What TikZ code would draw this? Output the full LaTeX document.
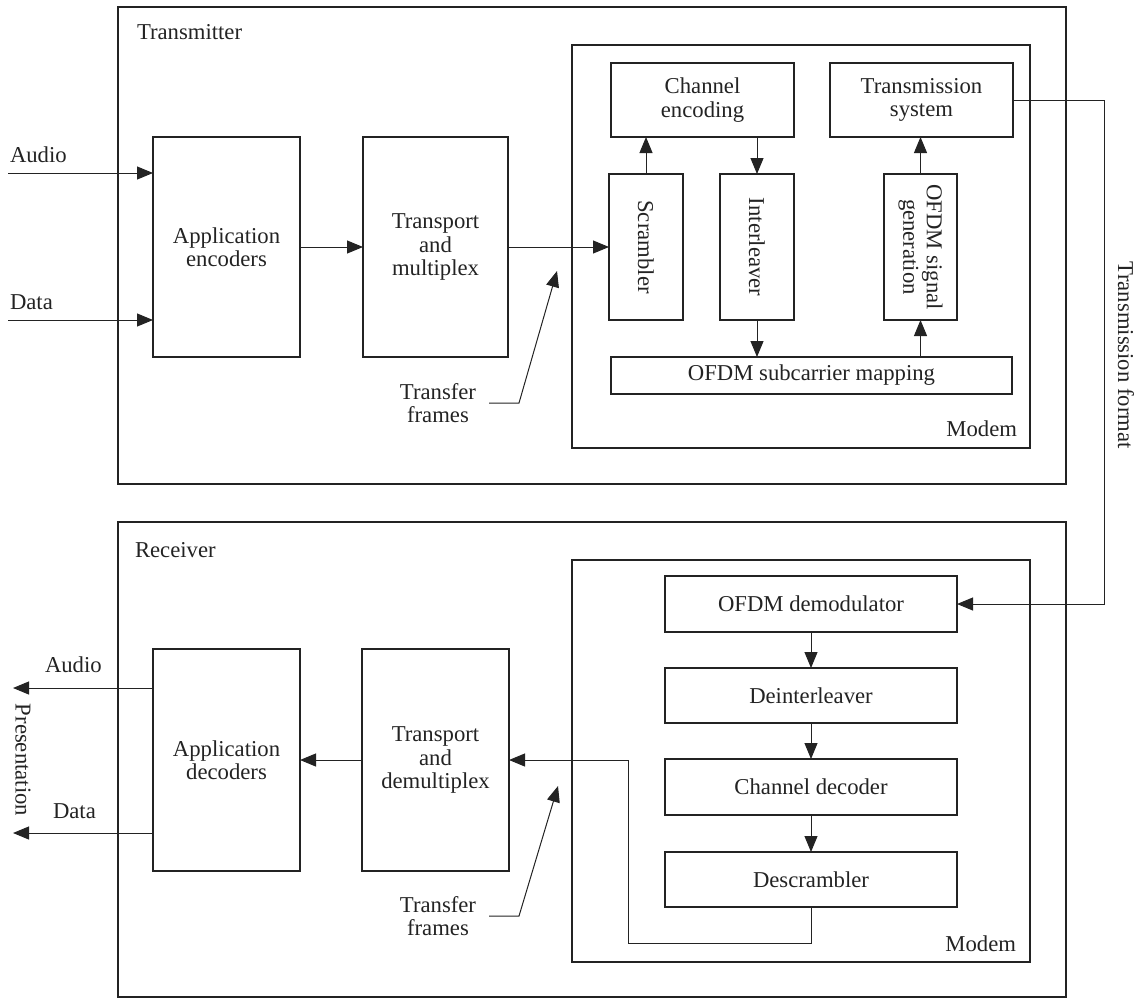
\documentclass[tikz,border=0pt]{standalone}
\usepackage{fontspec}
\setmainfont{Liberation Serif}
\usetikzlibrary{arrows.meta}
\definecolor{ink}{RGB}{35,35,35}
\begin{document}
\begin{tikzpicture}[x=1pt,y=-1pt,
  every node/.style={font=\fontsize{22.7}{23.5}\selectfont, text=ink, inner sep=0pt, outer sep=0pt},
  blk/.style={draw=ink, line width=1.5pt, align=center},
  frame/.style={draw=ink, line width=1.5pt},
  conn/.style={draw=ink, line width=1pt},
  arr/.style={conn, -{Triangle[length=16pt,width=13pt]}},
  vt/.style={rotate=-90, align=center}
]
\useasboundingbox (0,0) rectangle (1140,999);

% ---------- Transmitter ----------
\node[frame, minimum width=948pt, minimum height=477pt] (txouter) at (592,245.5) {};
\node[anchor=base west] (txlbl) at (137,39) {Transmitter};
\node[frame, minimum width=458pt, minimum height=403pt] (txmodem) at (801,246.5) {};
\node[anchor=base east] (txmodemlbl) at (1017,436) {Modem};

\node[blk, minimum width=147pt, minimum height=220pt] (appenc) at (226.5,247) {Application\\encoders};
\node[blk, minimum width=145pt, minimum height=220pt] (transp) at (435.5,247) {Transport\\and\\multiplex};

\node[blk, minimum width=183pt, minimum height=74pt] (chenc) at (702.5,100) {Channel\\encoding};
\node[blk, minimum width=183pt, minimum height=74pt] (txsys) at (921.5,100) {Transmission\\system};
\node[blk, minimum width=74pt, minimum height=146pt] (scr) at (646,247) {};
\node[vt] (scrtxt) at (scr.center) {Scrambler};
\node[blk, minimum width=74pt, minimum height=146pt] (intl) at (757,247) {};
\node[vt] (intltxt) at (intl.center) {Interleaver};
\node[blk, minimum width=73pt, minimum height=146pt] (gen) at (920.5,247) {};
\node[vt] (gentxt) at (gen.center) {OFDM signal\\generation};
\node[blk, minimum width=401pt, minimum height=37pt] (mapping) at (811.5,375.5) {OFDM subcarrier mapping};

\coordinate (audioin) at (8,173);
\coordinate (datain) at (8,320);
\node[anchor=base west] (audiolbl) at (10,162) {Audio};
\node[anchor=base west] (datalbl) at (10,309) {Data};
\draw[arr] (audioin) -- (audioin -| appenc.west);
\draw[arr] (datain) -- (datain -| appenc.west);
\draw[arr] (appenc.east) -- (transp.west);
\draw[arr] (transp.east) -- (scr.west);

\node[align=center] (tf1) at (438,403) {Transfer\\frames};
\coordinate (tf1s) at (489,403);
\coordinate (tf1k) at (519,403);
\coordinate (tf1t) at (557,271);
\draw[arr] (tf1s) -- (tf1k) -- (tf1t);

\draw[arr] (scr.north) -- (scr.north |- chenc.south);
\draw[arr] (intl.north |- chenc.south) -- (intl.north);
\draw[arr] (intl.south) -- (intl.south |- mapping.north);
\draw[arr] (gen.south |- mapping.north) -- (gen.south);
\draw[arr] (gen.north) -- (gen.north |- txsys.south);

% ---------- Receiver ----------
\node[frame, minimum width=948pt, minimum height=475pt] (rxouter) at (592,759.5) {};
\node[anchor=base west] (rxlbl) at (135,557) {Receiver};
\node[frame, minimum width=458pt, minimum height=402pt] (rxmodem) at (801,761) {};
\node[anchor=base east] (rxmodemlbl) at (1016,951) {Modem};

\node[blk, minimum width=292pt, minimum height=56pt] (demod) at (811,604) {OFDM demodulator};
\node[blk, minimum width=292pt, minimum height=55pt] (deintl) at (811,695.5) {Deinterleaver};
\node[blk, minimum width=292pt, minimum height=56pt] (chdec) at (811,787) {Channel decoder};
\node[blk, minimum width=292pt, minimum height=55pt] (descr) at (811,879.5) {Descrambler};

\node[blk, minimum width=147pt, minimum height=222pt] (appdec) at (226.5,760) {Application\\decoders};
\node[blk, minimum width=147pt, minimum height=222pt] (transd) at (435.5,760) {Transport\\and\\demultiplex};

\draw[arr] (demod.south) -- (deintl.north);
\draw[arr] (deintl.south) -- (chdec.north);
\draw[arr] (chdec.south) -- (descr.north);

\coordinate (rb) at (628,943);
\draw[arr] (descr.south) |- (rb) |- (transd.east);
\draw[arr] (transd.west) -- (appdec.east);

\coordinate (audout) at (13,688);
\coordinate (dataout) at (13,833);
\draw[arr] (audout -| appdec.west) -- (audout);
\draw[arr] (dataout -| appdec.west) -- (dataout);
\node[anchor=base west] (audoutlbl) at (45,672) {Audio};
\node[anchor=base west] (dataoutlbl) at (53,818) {Data};
\node[rotate=-90] (pres) at (23,760) {Presentation};

\node[align=center] (tf2) at (438,916) {Transfer\\frames};
\coordinate (tf2s) at (489,916);
\coordinate (tf2k) at (519,916);
\coordinate (tf2t) at (558,786);
\draw[arr] (tf2s) -- (tf2k) -- (tf2t);

% ---------- Transmission format link ----------
\coordinate (tfA) at (1104,100);
\draw[arr] (txsys.east) -- (tfA) |- (demod.east);
\node[rotate=-90] (tflbl) at (1126,355) {Transmission format};
\end{tikzpicture}
\end{document}
